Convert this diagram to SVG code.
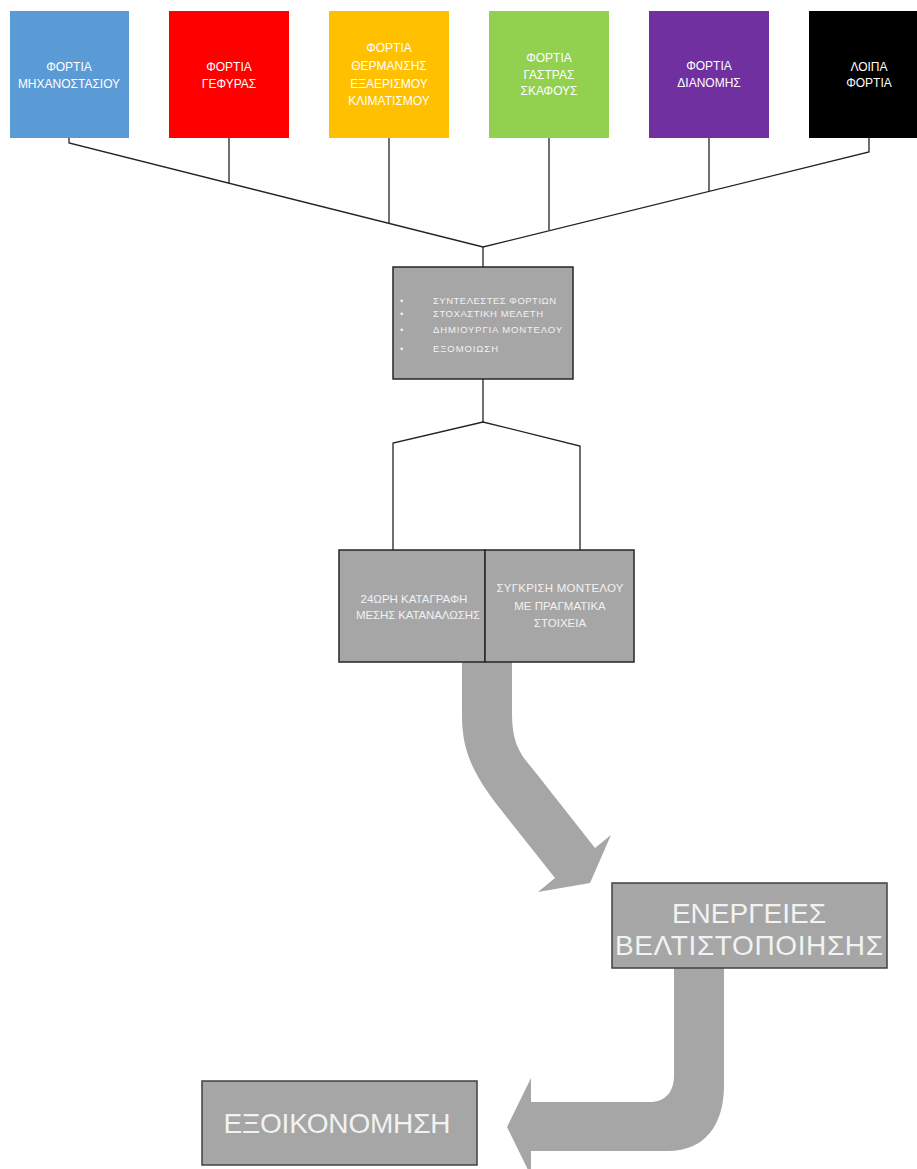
<svg xmlns="http://www.w3.org/2000/svg" width="917" height="1169" viewBox="0 0 917 1169">
<style>
.lbl{font-family:"Liberation Sans",Arial,sans-serif;fill:#ffffff;text-anchor:middle;font-size:12px}
.gbox{fill:#a6a6a6;stroke:#262626;stroke-width:1.5}
.sm{font-family:"Liberation Sans",Arial,sans-serif;fill:#f2f2f2;font-size:9.5px}
.md{font-family:"Liberation Sans",Arial,sans-serif;fill:#f2f2f2;font-size:11.5px;text-anchor:middle}
.big{font-family:"Liberation Sans",Arial,sans-serif;fill:#f2f2f2;font-size:28px;text-anchor:middle}
.ln{fill:none;stroke:#222;stroke-width:1.3}
.arr{fill:#a6a6a6;stroke:none}
</style>
<rect width="917" height="1169" fill="#ffffff"/>

<g id="connectors">
<polyline class="ln" points="69,138 69,143 483,247 869,152 869,138"/>
<line class="ln" x1="229" y1="138" x2="229" y2="183"/>
<line class="ln" x1="389" y1="138" x2="389" y2="223"/>
<line class="ln" x1="549" y1="138" x2="549" y2="230"/>
<line class="ln" x1="709" y1="138" x2="709" y2="191"/>
<line class="ln" x1="483" y1="247" x2="483" y2="267"/>
<polyline class="ln" points="393,550 393,443 483,422 580,446 580,550"/>
<line class="ln" x1="483" y1="379" x2="483" y2="422"/>
<path id="arrow1" class="arr" d="M462,662 L512,662 L512,712 C512,740 518,752 532,768 L595,848 L611,835 L590,883 L538,892 L555,878 L498,806 C472,772 462,750 462,715 Z"/>
<path id="arrow2" class="arr" d="M674,968 L724,968 L724,1085 C724,1125 705,1151 668,1151 L531,1151 L531,1176 L507,1127 L531,1078 L531,1102 L650,1102 C665,1102 674,1092 674,1076 Z"/>
</g>

<g id="n1">
<rect x="10" y="11" width="119" height="127" fill="#5b9bd5"/>
<text class="lbl" x="69" y="71">ΦΟΡΤΙΑ</text>
<text class="lbl" x="69" y="88">ΜΗΧΑΝΟΣΤΑΣΙΟΥ</text>
</g>
<g id="n2">
<rect x="169" y="11" width="120" height="127" fill="#ff0000"/>
<text class="lbl" x="229" y="71">ΦΟΡΤΙΑ</text>
<text class="lbl" x="229" y="88">ΓΕΦΥΡΑΣ</text>
</g>
<g id="n3">
<rect x="329" y="11" width="120" height="127" fill="#ffc000"/>
<text class="lbl" x="389" y="52">ΦΟΡΤΙΑ</text>
<text class="lbl" x="389" y="70">ΘΕΡΜΑΝΣΗΣ</text>
<text class="lbl" x="389" y="88">ΕΞΑΕΡΙΣΜΟΥ</text>
<text class="lbl" x="389" y="105">ΚΛΙΜΑΤΙΣΜΟΥ</text>
</g>
<g id="n4">
<rect x="489" y="11" width="120" height="127" fill="#92d050"/>
<text class="lbl" x="549" y="62">ΦΟΡΤΙΑ</text>
<text class="lbl" x="549" y="79">ΓΑΣΤΡΑΣ</text>
<text class="lbl" x="549" y="95">ΣΚΑΦΟΥΣ</text>
</g>
<g id="n5">
<rect x="649" y="11" width="120" height="127" fill="#7030a0"/>
<text class="lbl" x="709" y="70">ΦΟΡΤΙΑ</text>
<text class="lbl" x="709" y="87">ΔΙΑΝΟΜΗΣ</text>
</g>
<g id="n6">
<rect x="809" y="11" width="120" height="127" fill="#000000"/>
<text class="lbl" x="869" y="71">ΛΟΙΠΑ</text>
<text class="lbl" x="869" y="87">ΦΟΡΤΙΑ</text>
</g>

<g id="n7">
<rect class="gbox" x="393" y="267" width="180" height="112"/>
<text class="sm" x="400" y="304">•</text>
<text class="sm" x="433" y="304" textLength="123">ΣΥΝΤΕΛΕΣΤΕΣ ΦΟΡΤΙΩΝ</text>
<text class="sm" x="400" y="317">•</text>
<text class="sm" x="433" y="317" textLength="110">ΣΤΟΧΑΣΤΙΚΗ ΜΕΛΕΤΗ</text>
<text class="sm" x="400" y="333">•</text>
<text class="sm" x="433" y="333" textLength="129">ΔΗΜΙΟΥΡΓΙΑ ΜΟΝΤΕΛΟΥ</text>
<text class="sm" x="400" y="352">•</text>
<text class="sm" x="433" y="352" textLength="65">ΕΞΟΜΟΙΩΣΗ</text>
</g>

<g id="n8">
<rect class="gbox" x="339" y="550" width="146" height="112"/>
<text class="md" x="414" y="603">24ΩΡΗ ΚΑΤΑΓΡΑΦΗ</text>
<text class="md" x="418" y="619" textLength="124">ΜΕΣΗΣ ΚΑΤΑΝΑΛΩΣΗΣ</text>
</g>
<g id="n9">
<rect class="gbox" x="485" y="550" width="149" height="112"/>
<text class="md" x="560" y="592" textLength="127">ΣΥΓΚΡΙΣΗ ΜΟΝΤΕΛΟΥ</text>
<text class="md" x="560" y="610">ΜΕ ΠΡΑΓΜΑΤΙΚΑ</text>
<text class="md" x="560" y="627">ΣΤΟΙΧΕΙΑ</text>
</g>

<g id="n10">
<rect x="612" y="883" width="275" height="85" fill="#a6a6a6" stroke="#404040" stroke-width="1.5"/>
<text class="big" x="749" y="923">ΕΝΕΡΓΕΙΕΣ</text>
<text class="big" x="749" y="955" textLength="268">ΒΕΛΤΙΣΤΟΠΟΙΗΣΗΣ</text>
</g>

<g id="n11">
<rect x="202" y="1081" width="275" height="84" fill="#a6a6a6" stroke="#404040" stroke-width="1.5"/>
<text class="big" x="337" y="1133" textLength="227">ΕΞΟΙΚΟΝΟΜΗΣΗ</text>
</g>
</svg>
